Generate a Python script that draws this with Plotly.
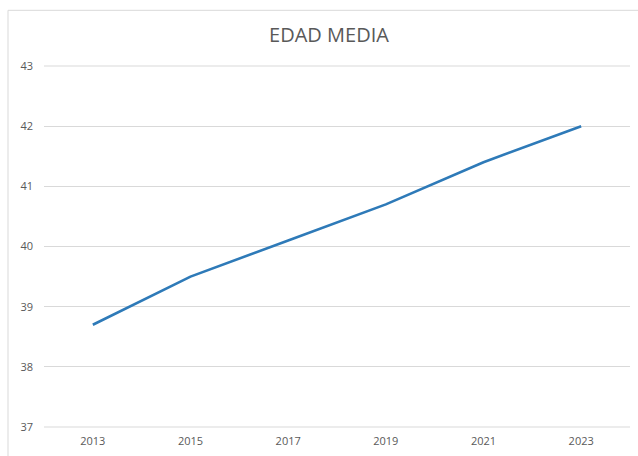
import plotly.graph_objects as go

years = [2013, 2015, 2017, 2019, 2021, 2023]
edad_media = [38.7, 39.5, 40.1, 40.7, 41.4, 42.0]
x_ticks = [2013, 2015, 2017, 2019, 2021, 2023]
y_ticks = [37, 38, 39, 40, 41, 42, 43]
title_text = "EDAD MEDIA"

W, H = 638, 456
L, R, T, B = 44, 8, 66, 27
pw, ph = W - L - R, H - T - B

def px(xp):
    return (xp - L) / pw

def py(yp):
    return (H - B - yp) / ph

fig = go.Figure()
fig.add_trace(go.Scatter(
    x=years, y=edad_media, mode="lines",
    line=dict(color="#2E7AB8", width=2.6),
    hoverinfo="x+y", showlegend=False,
))

grid_color = "#D9D9D9"
font_family = "Open Sans, Lato, sans-serif"
# gridlines at the bottom (37) and top (43) edges of the y range
edge_grid = [dict(type="line", xref="paper", yref="paper", x0=0, x1=1, y0=v, y1=v,
                  layer="below", line=dict(color=grid_color, width=1))
             for v in (0, 1)]

fig.update_layout(
    width=W, height=H,
    margin=dict(l=L, r=R, t=T, b=B, pad=0),
    paper_bgcolor="white", plot_bgcolor="white",
    font=dict(family=font_family, color="#595959", size=11),
    title=dict(text=title_text, x=px(329), xref="paper", xanchor="center",
               y=1 - 35 / H, yanchor="middle",
               font=dict(size=20, color="#595959", family=font_family)),
    xaxis=dict(range=[2012, 2024], tickvals=x_ticks, ticktext=[str(v) for v in x_ticks],
               showgrid=False, zeroline=False, showline=False, ticks="",
               ticklabelstandoff=6, tickfont=dict(size=11, color="#595959")),
    yaxis=dict(range=[y_ticks[0], y_ticks[-1]], tickvals=y_ticks, showgrid=True,
               gridcolor=grid_color, gridwidth=1, zeroline=False, showline=False,
               ticks="", ticklabelstandoff=10, tickfont=dict(size=11, color="#595959")),
    shapes=edge_grid + [
        dict(type="line", xref="paper", yref="paper", x0=px(8), x1=px(W + 5),
             y0=py(10), y1=py(10), line=dict(color=grid_color, width=1)),
        dict(type="line", xref="paper", yref="paper", x0=px(8), x1=px(8),
             y0=py(10), y1=py(H + 5), line=dict(color=grid_color, width=1)),
    ],
)

fig.write_html("out.html", config={"displayModeBar": False},
               post_script="document.body.style.margin='0';document.body.style.padding='0';")
